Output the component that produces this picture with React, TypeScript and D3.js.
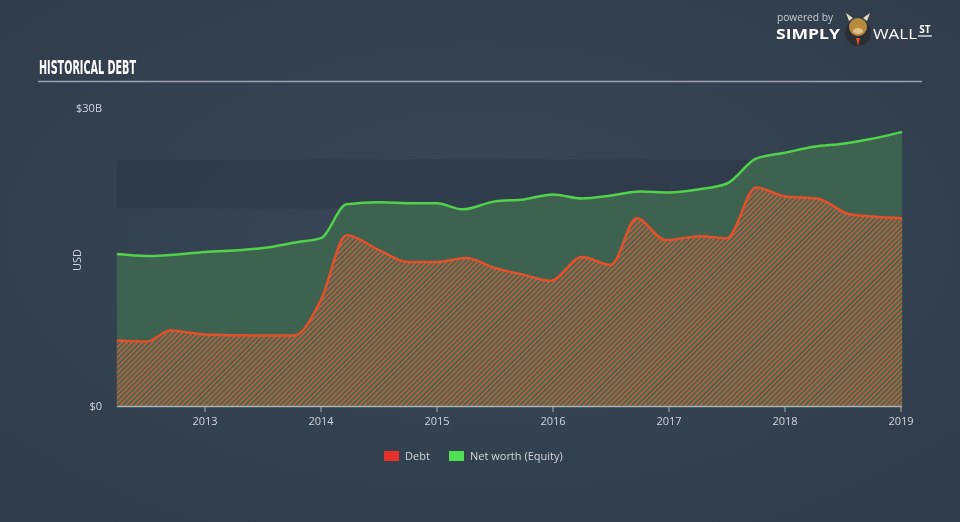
import React from "react";
import * as d3 from "d3";

const years = [2013, 2014, 2015, 2016, 2017, 2018, 2019];
const yTickLabels = ["$0", "$30B"];
const yTickValues = [0, 30];

const netWorthDates = [2012.24, 2012.5, 2013.0, 2013.5, 2013.8, 2014.0, 2014.22, 2014.5, 2014.8, 2015.0, 2015.22, 2015.5, 2015.75, 2016.0, 2016.25, 2016.5, 2016.75, 2017.0, 2017.25, 2017.5, 2017.75, 2018.0, 2018.25, 2018.5, 2018.75, 2019.01];
const netWorthValues = [15.3, 15.1, 15.5, 15.9, 16.5, 16.9, 20.3, 20.5, 20.4, 20.4, 19.8, 20.6, 20.8, 21.3, 20.9, 21.2, 21.6, 21.5, 21.8, 22.4, 24.9, 25.5, 26.1, 26.4, 26.9, 27.6];

const debtDates = [2012.24, 2012.5, 2012.7, 2013.0, 2013.5, 2013.77, 2014.0, 2014.22, 2014.5, 2014.75, 2015.0, 2015.25, 2015.5, 2015.75, 2015.98, 2016.25, 2016.5, 2016.72, 2016.97, 2017.27, 2017.5, 2017.75, 2018.0, 2018.28, 2018.56, 2019.01];
const debtValues = [6.6, 6.5, 7.6, 7.2, 7.1, 7.1, 10.7, 17.2, 15.7, 14.5, 14.5, 14.9, 13.9, 13.2, 12.6, 15.0, 14.2, 18.9, 16.7, 17.1, 16.9, 22.0, 21.1, 20.9, 19.3, 18.9];

const bandRange = [19.9, 24.8];

export default function App() {
  const W = 960, H = 522;
  const x = d3.scaleLinear().domain([2013, 2019]).range([205, 901]);
  const y = d3.scaleLinear().domain([0, 30]).range([406, 108]);
  const x0 = x(netWorthDates[0]);
  const x1 = x(netWorthDates[netWorthDates.length - 1]);

  const nw = netWorthDates.map((d, i) => [d, netWorthValues[i]] as [number, number]);
  const db = debtDates.map((d, i) => [d, debtValues[i]] as [number, number]);

  const area = d3.area<[number, number]>().x(d => x(d[0])).y0(y(0)).y1(d => y(d[1])).curve(d3.curveMonotoneX);
  const line = d3.line<[number, number]>().x(d => x(d[0])).y(d => y(d[1])).curve(d3.curveMonotoneX);

  const sans = "'Open Sans', sans-serif";

  return (
    <div style={{ position: "fixed", left: 0, top: 0, width: W, height: H }}>
      <svg width={W} height={H} style={{ display: "block" }}>
        <defs>
          <radialGradient id="bg" cx="50%" cy="45%" r="70%">
            <stop offset="0%" stopColor="#394757" />
            <stop offset="100%" stopColor="#303c4a" />
          </radialGradient>
          <pattern id="hatch" patternUnits="userSpaceOnUse" width="3.6" height="3.6" patternTransform="rotate(45)">
            <rect width="3.6" height="3.6" fill="#4a6650" />
            <rect width="1.5" height="3.6" fill="#bf603d" />
          </pattern>
        </defs>
        <rect width={W} height={H} fill="url(#bg)" />

        <text x={39} y={74} fill="#ffffff" fontFamily="'DejaVu Sans Condensed', 'Liberation Sans Narrow', sans-serif" fontWeight="bold" fontSize={19} textLength={97} lengthAdjust="spacingAndGlyphs">HISTORICAL DEBT</text>
        <line x1={38} x2={922} y1={81.5} y2={81.5} stroke="#9aa3ad" strokeWidth={1.5} />

        {/* logo */}
        <text x={777} y={21} fill="#c9ced4" fontFamily={sans} fontSize={10} textLength={56} lengthAdjust="spacingAndGlyphs">powered by</text>
        <text x={776} y={38.5} fill="#ffffff" fontFamily={sans} fontWeight="bold" fontSize={14.5} textLength={64} lengthAdjust="spacingAndGlyphs">SIMPLY</text>
        <circle cx={858} cy={33} r={13} fill="#2a2f36" />
        <ellipse cx={858} cy={27} rx={9} ry={9} fill="#b88a3e" />
        <ellipse cx={858} cy={31} rx={5} ry={3} fill="#e0c08a" />
        <path d="M849,21 l-3,-8 l7,5 Z M867,21 l3,-8 l-7,5 Z" fill="#e8dcc0" />
        <path d="M856,38 l2,8 l2,-8 Z" fill="#e8502a" />
        <text x={873} y={38.5} fill="#ffffff" fontFamily={sans} fontSize={14.5} textLength={44} lengthAdjust="spacingAndGlyphs">WALL</text>
        <text x={925} y={33} fill="#ffffff" fontFamily={sans} fontWeight="bold" fontSize={10} textAnchor="middle">ST</text>
        <line x1={918} x2={932} y1={36} y2={36} stroke="#ffffff" strokeWidth={1.2} />

        {/* band */}
        <rect x={x0} width={x1 - x0} y={y(bandRange[1])} height={y(bandRange[0]) - y(bandRange[1])} fill="#2d3948" opacity={0.7} />

        {/* areas */}
        <path d={area(nw) || ""} fill="#3d6350" />
        <path d={area(db) || ""} fill="url(#hatch)" />
        <path d={line(nw) || ""} fill="none" stroke="#52d24a" strokeWidth={2.5} />
        <path d={line(db) || ""} fill="none" stroke="#e2502c" strokeWidth={2.5} />

        {/* axes */}
        <line x1={x0} x2={x1} y1={406.5} y2={406.5} stroke="#a8b0b8" strokeWidth={1.5} />
        {years.map(yr => (
          <g key={yr}>
            <line x1={x(yr)} x2={x(yr)} y1={406} y2={412} stroke="#a8b0b8" strokeWidth={1} />
            <text x={x(yr)} y={425} textAnchor="middle" fill="#d2d7dc" fontFamily={sans} fontSize={11}>{yr}</text>
          </g>
        ))}
        {yTickValues.map((v, i) => (
          <text key={v} x={102} y={y(v) + 4} textAnchor="end" fill="#d2d7dc" fontFamily={sans} fontSize={11}>{yTickLabels[i]}</text>
        ))}
        <text transform="translate(81,260) rotate(-90)" textAnchor="middle" fill="#d2d7dc" fontFamily={sans} fontSize={11}>USD</text>

        {/* legend */}
        <rect x={384} y={451} width={15} height={10} fill="#e8302b" />
        <text x={405} y={460} fill="#d2d7dc" fontFamily={sans} fontSize={11}>Debt</text>
        <rect x={449} y={451} width={15} height={10} fill="#4ee053" />
        <text x={470} y={460} fill="#d2d7dc" fontFamily={sans} fontSize={11}>Net worth (Equity)</text>
      </svg>
    </div>
  );
}
